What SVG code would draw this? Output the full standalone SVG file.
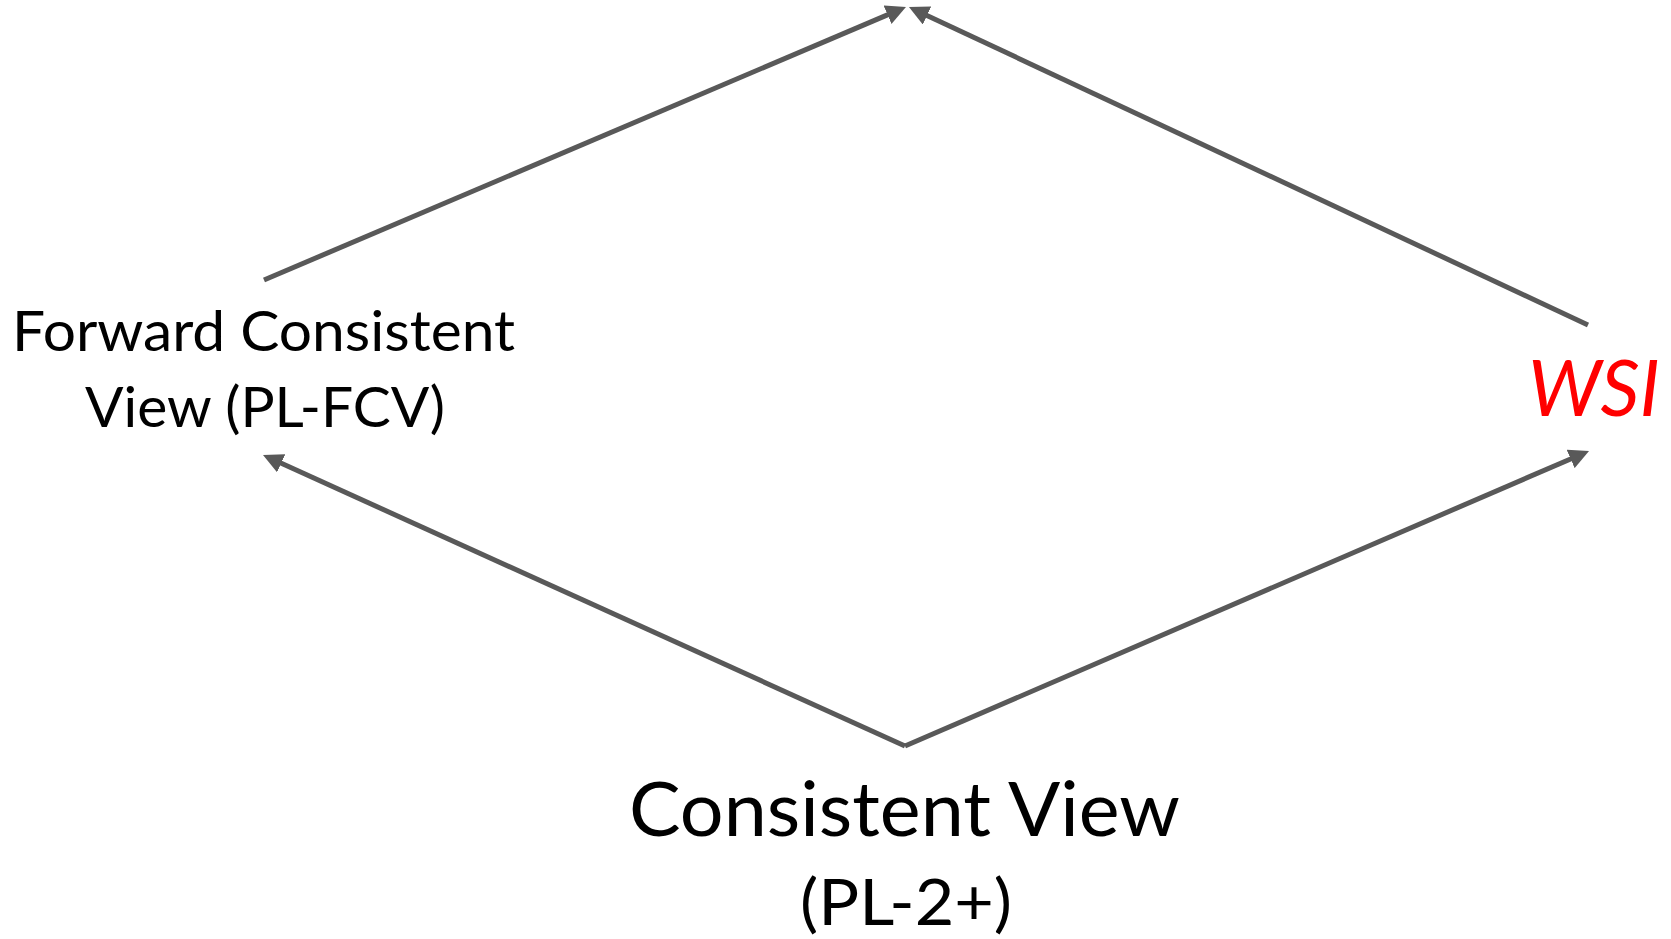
<svg xmlns="http://www.w3.org/2000/svg" width="1671" height="939" viewBox="0 0 1671 939">
  <defs>
    <marker id="arrow" markerUnits="userSpaceOnUse" viewBox="0 0 20 20" markerWidth="20" markerHeight="20" refX="12" refY="10" orient="auto">
      <path d="M0,0 L20,10 L0,20 z" fill="#595959"/>
    </marker>
    <style>
      .lbl { font-family: Lato, "Open Sans", "Liberation Sans", sans-serif; fill: #000000; }
      .conn { stroke: #595959; stroke-width: 5; fill: none; }
      .arr { marker-end: url(#arrow); }
    </style>
  </defs>
  <rect width="1671" height="939" fill="#ffffff"/>
  <g id="connectors">
    <line class="conn arr" x1="264" y1="280" x2="898.6" y2="10.1"/>
    <line class="conn arr" x1="1588" y1="325" x2="916.2" y2="10.4"/>
    <line class="conn arr" x1="905" y1="746" x2="270.3" y2="458.3"/>
    <line class="conn arr" x1="905" y1="746" x2="1581.7" y2="454.2"/>
  </g>
  <g id="node-fcv">
    <text class="lbl" x="12" y="351" font-size="57" textLength="503" lengthAdjust="spacingAndGlyphs">Forward Consistent</text>
    <text class="lbl" x="85" y="427" font-size="57" textLength="360" lengthAdjust="spacingAndGlyphs">View (PL-FCV)</text>
  </g>
  <g id="node-wsi">
    <text class="lbl" x="1528" y="416" font-size="77" font-style="italic" fill="#ff0000" style="fill:#ff0000" textLength="132" lengthAdjust="spacingAndGlyphs">WSI</text>
  </g>
  <g id="node-cv">
    <text class="lbl" x="629" y="836" font-size="75" textLength="551" lengthAdjust="spacingAndGlyphs">Consistent View</text>
    <text class="lbl" x="800" y="925" font-size="64" textLength="212" lengthAdjust="spacingAndGlyphs">(PL-2+)</text>
  </g>
</svg>
